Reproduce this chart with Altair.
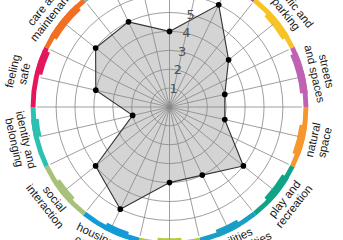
import math
import altair as alt
import pandas as pd

# ---------------- data ----------------
categories = [
    "moving around", "public transport", "traffic and parking", "streets and spaces",
    "natural space", "play and recreation", "facilities and amenities",
    "work and local economy", "housing and community", "social interaction",
    "identity and belonging", "feeling safe", "care and maintenance",
    "influence and sense of control",
]
label_text = [
    "moving\naround", "public\ntransport", "traffic and\nparking", "streets\nand spaces",
    "natural\nspace", "play and\nrecreation", "facilities\nand amenities",
    "work and\nlocal economy", "housing and\ncommunity", "social\ninteraction",
    "identity and\nbelonging", "feeling\nsafe", "care and\nmaintenance",
    "influence and\nsense of control",
]
scores = [4, 6, 4, 3, 3, 5, 4, 4, 6, 5, 2, 4, 5, 5]
band_colors = [
    "#3aa6dd", "#b5509c", "#f7c325", "#c062b3", "#f7962b", "#0fa487", "#1b9ec4",
    "#b8c936", "#149bd5", "#a7c17a", "#2cc0b0", "#e4175c", "#f26f22", "#6fb9bf",
]
# part of each colour segment drawn thicker (fraction of the segment)
thick_from = [0.3, 0.3, 0.3, 0.1, 0.3, 0.2, 0.3, 0.3, 0.2, 0.3, 0.5, 0.55, 0.2, 0.3]
thick_to = [0.7, 0.7, 0.8, 0.77, 0.8, 0.7, 0.7, 0.7, 0.6, 0.7, 0.8, 0.95, 0.85, 0.7]
ring_values = [1, 2, 3, 4, 5, 6, 7]
tick_labels = ["1", "2", "3", "4", "5", "6", "7"]
MAX_SCORE = 7

# ---------------- layout ----------------
W, H = 343, 240
CX, CY = 169.5, 107.0
UNIT = 18.9  # px per score unit
N = len(categories)
STEP = 2 * math.pi / N
LABEL_R = 8.15

xs = alt.Scale(domain=[-CX / UNIT, (W - CX) / UNIT], range=[0, W], nice=False, zero=False)
ys = alt.Scale(domain=[-(H - CY) / UNIT, CY / UNIT], range=[H, 0], nice=False, zero=False)
rs = alt.Scale(type="linear", domain=[0, 10], range=[0, 10 * UNIT], zero=True, nice=False)

GRID = "#878787"

cat_df = pd.DataFrame({
    "idx": list(range(N)),
    "category": categories,
    "label": label_text,
    "score": scores,
    "color": band_colors,
})

band_rows = []
for i in range(N):
    a0 = i * STEP - STEP / 2
    a1 = i * STEP + STEP / 2
    band_rows.append({"t0": a0 + 2 * math.pi, "t1": a1 + 2 * math.pi, "r": 7.35, "r2": 7.09,
                      "color": band_colors[i], "cx": 0.0, "cy": 0.0})
    band_rows.append({"t0": a0 + thick_from[i] * STEP + 2 * math.pi,
                      "t1": a0 + thick_to[i] * STEP + 2 * math.pi,
                      "r": 7.35, "r2": 6.95, "color": band_colors[i], "cx": 0.0, "cy": 0.0})
band_df = pd.DataFrame(band_rows)

ring_df = pd.DataFrame({"r": ring_values[:-1]})
ring_df["t0"] = 0.0
ring_df["t1"] = 2 * math.pi
ring_df["cx"] = 0.0
ring_df["cy"] = 0.0
spoke_df = pd.DataFrame({"k": list(range(2 * N)), "m": [MAX_SCORE] * (2 * N)})
spoke_df["cx"] = 0.0
spoke_df["cy"] = 0.0
tick_df = pd.DataFrame({"v": ring_values, "t": tick_labels})

XC = alt.X("cx:Q", scale=xs, axis=None)
YC = alt.Y("cy:Q", scale=ys, axis=None)

base = alt.Chart(cat_df).transform_calculate(
    ang=f"datum.idx * {STEP}",
).transform_calculate(
    px="datum.score * sin(datum.ang)",
    py="datum.score * cos(datum.ang)",
)

bands = alt.Chart(band_df).mark_arc(strokeWidth=0).encode(
    x=XC, y=YC,
    theta=alt.Theta("t0:Q", scale=None, stack=None),
    theta2=alt.Theta2("t1:Q"),
    radius=alt.Radius("r:Q", scale=rs),
    radius2=alt.Radius2("r2:Q"),
    color=alt.Color("color:N", scale=None),
)

poly_fill = base.mark_line(interpolate="linear-closed", fill="#d4d4d4", strokeOpacity=0).encode(
    x=alt.X("px:Q", scale=xs, axis=None),
    y=alt.Y("py:Q", scale=ys, axis=None),
    order=alt.Order("idx:Q"),
)

rings = alt.Chart(ring_df).mark_arc(fillOpacity=0, stroke=GRID, strokeWidth=0.8).encode(
    x=XC, y=YC,
    theta=alt.Theta("t0:Q", scale=None, stack=None),
    theta2=alt.Theta2("t1:Q"),
    radius=alt.Radius("r:Q", scale=rs),
)

spokes = alt.Chart(spoke_df).transform_calculate(
    ang=f"datum.k * {STEP / 2}",
).transform_calculate(
    ex="datum.m * sin(datum.ang)",
    ey="datum.m * cos(datum.ang)",
).mark_rule(color=GRID, strokeWidth=0.8).encode(
    x=XC, y=YC,
    x2=alt.X2("ex:Q"),
    y2=alt.Y2("ey:Q"),
)

poly_line = base.mark_line(interpolate="linear-closed", color="#333333", strokeWidth=1.1).encode(
    x=alt.X("px:Q", scale=xs, axis=None),
    y=alt.Y("py:Q", scale=ys, axis=None),
    order=alt.Order("idx:Q"),
)

points = base.mark_circle(size=32, color="#000000", opacity=1).encode(
    x=alt.X("px:Q", scale=xs, axis=None),
    y=alt.Y("py:Q", scale=ys, axis=None),
)

ticks = alt.Chart(tick_df).transform_calculate(
    tx=f"datum.v * sin({STEP / 2})",
    ty=f"datum.v * cos({STEP / 2})",
).mark_text(font="DejaVu Sans", fontSize=13, color="#505050", align="center", baseline="middle").encode(
    x=alt.X("tx:Q", scale=xs, axis=None),
    y=alt.Y("ty:Q", scale=ys, axis=None),
    text="t:N",
)

labels = alt.Chart(cat_df).transform_calculate(
    ang=f"datum.idx * {STEP}",
).transform_calculate(
    lx=f"{LABEL_R} * sin(datum.ang)",
    ly=f"{LABEL_R} * cos(datum.ang)",
    deg="datum.ang * 180 / PI",
).transform_calculate(
    rot="(datum.deg > 90 && datum.deg < 270) ? datum.deg - 180 : datum.deg",
).transform_calculate(
    rot2="((datum.rot % 360) + 360) % 360",
).mark_text(font="Liberation Sans", fontSize=11.5, color="#1a1a1a", align="center",
            baseline="middle", lineBreak="\n", lineHeight=12, dy=-6).encode(
    x=alt.X("lx:Q", scale=xs, axis=None),
    y=alt.Y("ly:Q", scale=ys, axis=None),
    text="label:N",
    angle=alt.Angle("rot2:Q", scale=None),
)

chart = alt.layer(
    bands, poly_fill, rings, spokes, poly_line, points, ticks, labels
).properties(
    width=W, height=H, padding=0, autosize=alt.AutoSizeParams(type="none"),
).configure_view(stroke=None)

chart.save("out.html", embed_options={"renderer": "svg", "actions": False})
